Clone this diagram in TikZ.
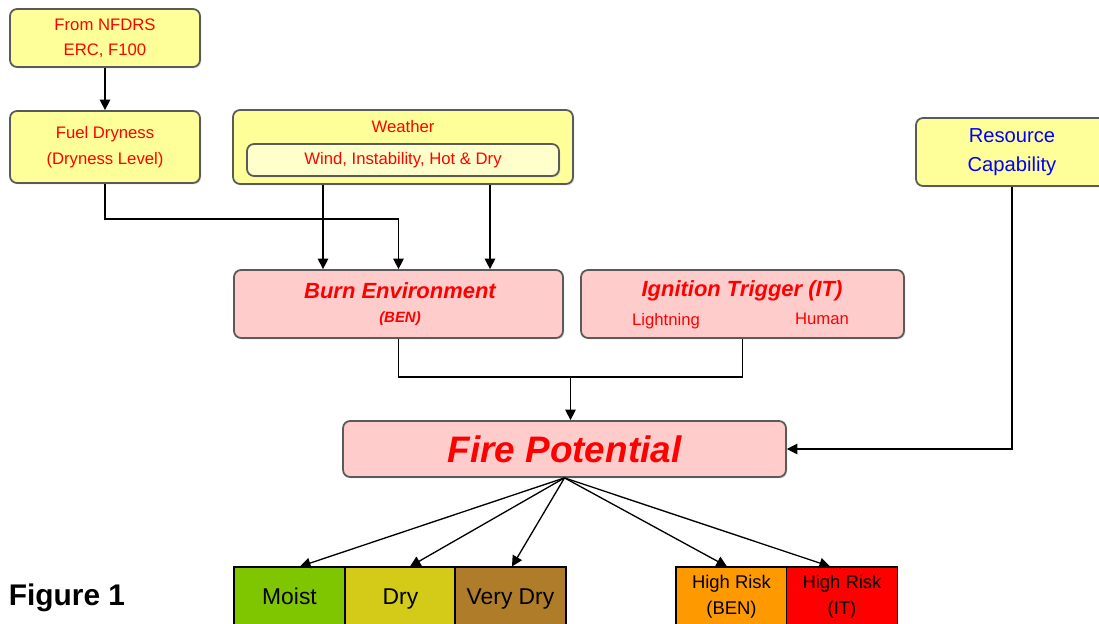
\documentclass[tikz,border=0pt]{standalone}
\usepackage{fontspec}
\setmainfont{Liberation Sans}
\usetikzlibrary{arrows.meta}
\usetikzlibrary{calc}
\usetikzlibrary{shadows}
\definecolor{boxyellow}{HTML}{FFFF99}
\definecolor{paleyellow}{HTML}{FFFFCC}
\definecolor{boxpink}{HTML}{FFCCCC}
\definecolor{boxline}{HTML}{5A5A5A}
\definecolor{moistgreen}{HTML}{80C600}
\definecolor{dryyellow}{HTML}{D3CB18}
\definecolor{verydrybrown}{HTML}{AF7D2A}
\definecolor{riskorange}{HTML}{FF9900}
\definecolor{riskred}{HTML}{FF0000}
\tikzset{x=0.02cm, y=-0.02cm,
    >={Triangle[length=6pt,width=6pt]},
    box/.style={
        draw=boxline,
        line width=1pt,
        rounded corners=4pt,
        drop shadow={shadow xshift=0.8pt, shadow yshift=-0.8pt, fill=gray!45},
        inner sep=0pt,
        align=center},
    ybox/.style={box, fill=boxyellow},
    pbox/.style={box, fill=boxpink},
    level/.style={
        draw=black,
        line width=0.6pt,
        minimum width=2.22cm,
        minimum height=1.2cm,
        inner sep=0pt,
        align=center},
    onelevel/.style={level, text height=9.5pt, text depth=1.5pt, font=\fontsize{13}{15}\selectfont},
    redtxt/.style={text=red, font=\fontsize{9.5}{14.5}\selectfont},
    link/.style={->, line width=0.75pt},
    every edge/.style={
        draw,
        ->,
        line width=0.75pt}}

\begin{document}
\begin{tikzpicture}
    \useasboundingbox (0,0) rectangle (1099,624);

    % inputs
    \node[ybox, redtxt, minimum width=3.8cm, minimum height=1.16cm] (nfdrs) at (105,38) {From NFDRS\\ERC, F100};
    \node[ybox, redtxt, minimum width=3.8cm, minimum height=1.44cm] (fuel) at (105,147) {Fuel Dryness\\(Dryness Level)};
    \node[ybox, minimum width=6.8cm, minimum height=1.48cm] (weather) at (403,147) {};
    \node[redtxt] (wtitle) at (403,127) {Weather};
    \node[box, fill=paleyellow, redtxt, minimum width=6.24cm, minimum height=0.64cm] (wind) at (403,160) {Wind, Instability, Hot \& Dry};
    \node[ybox, text=blue, font=\fontsize{11.5}{16.5}\selectfont, minimum width=3.84cm, minimum height=1.36cm] (res) at (1012,152) {Resource\\Capability};

    % environment and trigger
    \node[pbox, minimum width=6.58cm, minimum height=1.36cm] (ben) at (398.5,304) {};
    \node[text=red, font=\fontsize{12.5}{15}\bfseries\itshape\selectfont] (bentitle) at (400,291) {Burn Environment};
    \node[text=red, font=\fontsize{8.5}{10}\bfseries\itshape\selectfont] (benabbr) at (400,319) {(BEN)};
    \node[pbox, minimum width=6.46cm, minimum height=1.36cm] (it) at (742.5,304) {};
    \node[text=red, font=\fontsize{12.5}{15}\bfseries\itshape\selectfont] (ittitle) at (742,291) {Ignition Trigger (IT)};
    \node[redtxt] (light) at (666,321) {Lightning};
    \node[redtxt] (human) at (822,319) {Human};

    \node[pbox, minimum width=8.86cm, minimum height=1.12cm, text=red, font=\fontsize{21}{24}\bfseries\itshape\selectfont] (fire) at (564.5,449) {Fire Potential};

    % outcome levels
    \node[onelevel, fill=moistgreen] (moist) at (289.5,597) {Moist};
    \node[onelevel, fill=dryyellow] (dry) at (400.5,597) {Dry};
    \node[onelevel, fill=verydrybrown] (vdry) at (510.5,597) {Very Dry};
    \node[level, fill=riskorange, font=\fontsize{10.5}{15}\selectfont] (hrben) at (731.5,597) {High Risk\\(BEN)};
    \node[level, fill=riskred, font=\fontsize{10.5}{15}\selectfont] (hrit) at (842,597) {High Risk\\(IT)};

    \node[font=\fontsize{17}{20}\bfseries\selectfont] (fig) at (67,598) {Figure 1};

    % connectors
    \draw (nfdrs) edge[] (fuel);
    \draw[link] (fuel.south) -- ++(0,35) -| (ben.north);
    \draw[link] ([xshift=-1.6cm]weather.south) -- ([xshift=-1.6cm]weather.south |- ben.north);
    \draw[link] ([xshift=1.74cm]weather.south) -- ([xshift=1.74cm]weather.south |- ben.north);

    \coordinate (join) at ($(ben.south)!0.5!(it.south)+(0,38)$);
    \draw[line width=0.75pt] (ben.south) -- ++(0,38) -| (it.south);
    \draw[link] (join) -- (join |- fire.north);
    \draw[link] (res.south) |- (fire.east);

    \draw (fire.south) edge[] ([xshift=0.21cm]moist.north);
    \draw (fire.south) edge[] ([xshift=0.19cm]dry.north);
    \draw (fire.south) edge[] ([xshift=0.03cm]vdry.north);
    \draw (fire.south) edge[] ([xshift=-0.09cm]hrben.north);
    \draw (fire.south) edge[] ([xshift=-0.24cm]hrit.north);
\end{tikzpicture}
\end{document}
